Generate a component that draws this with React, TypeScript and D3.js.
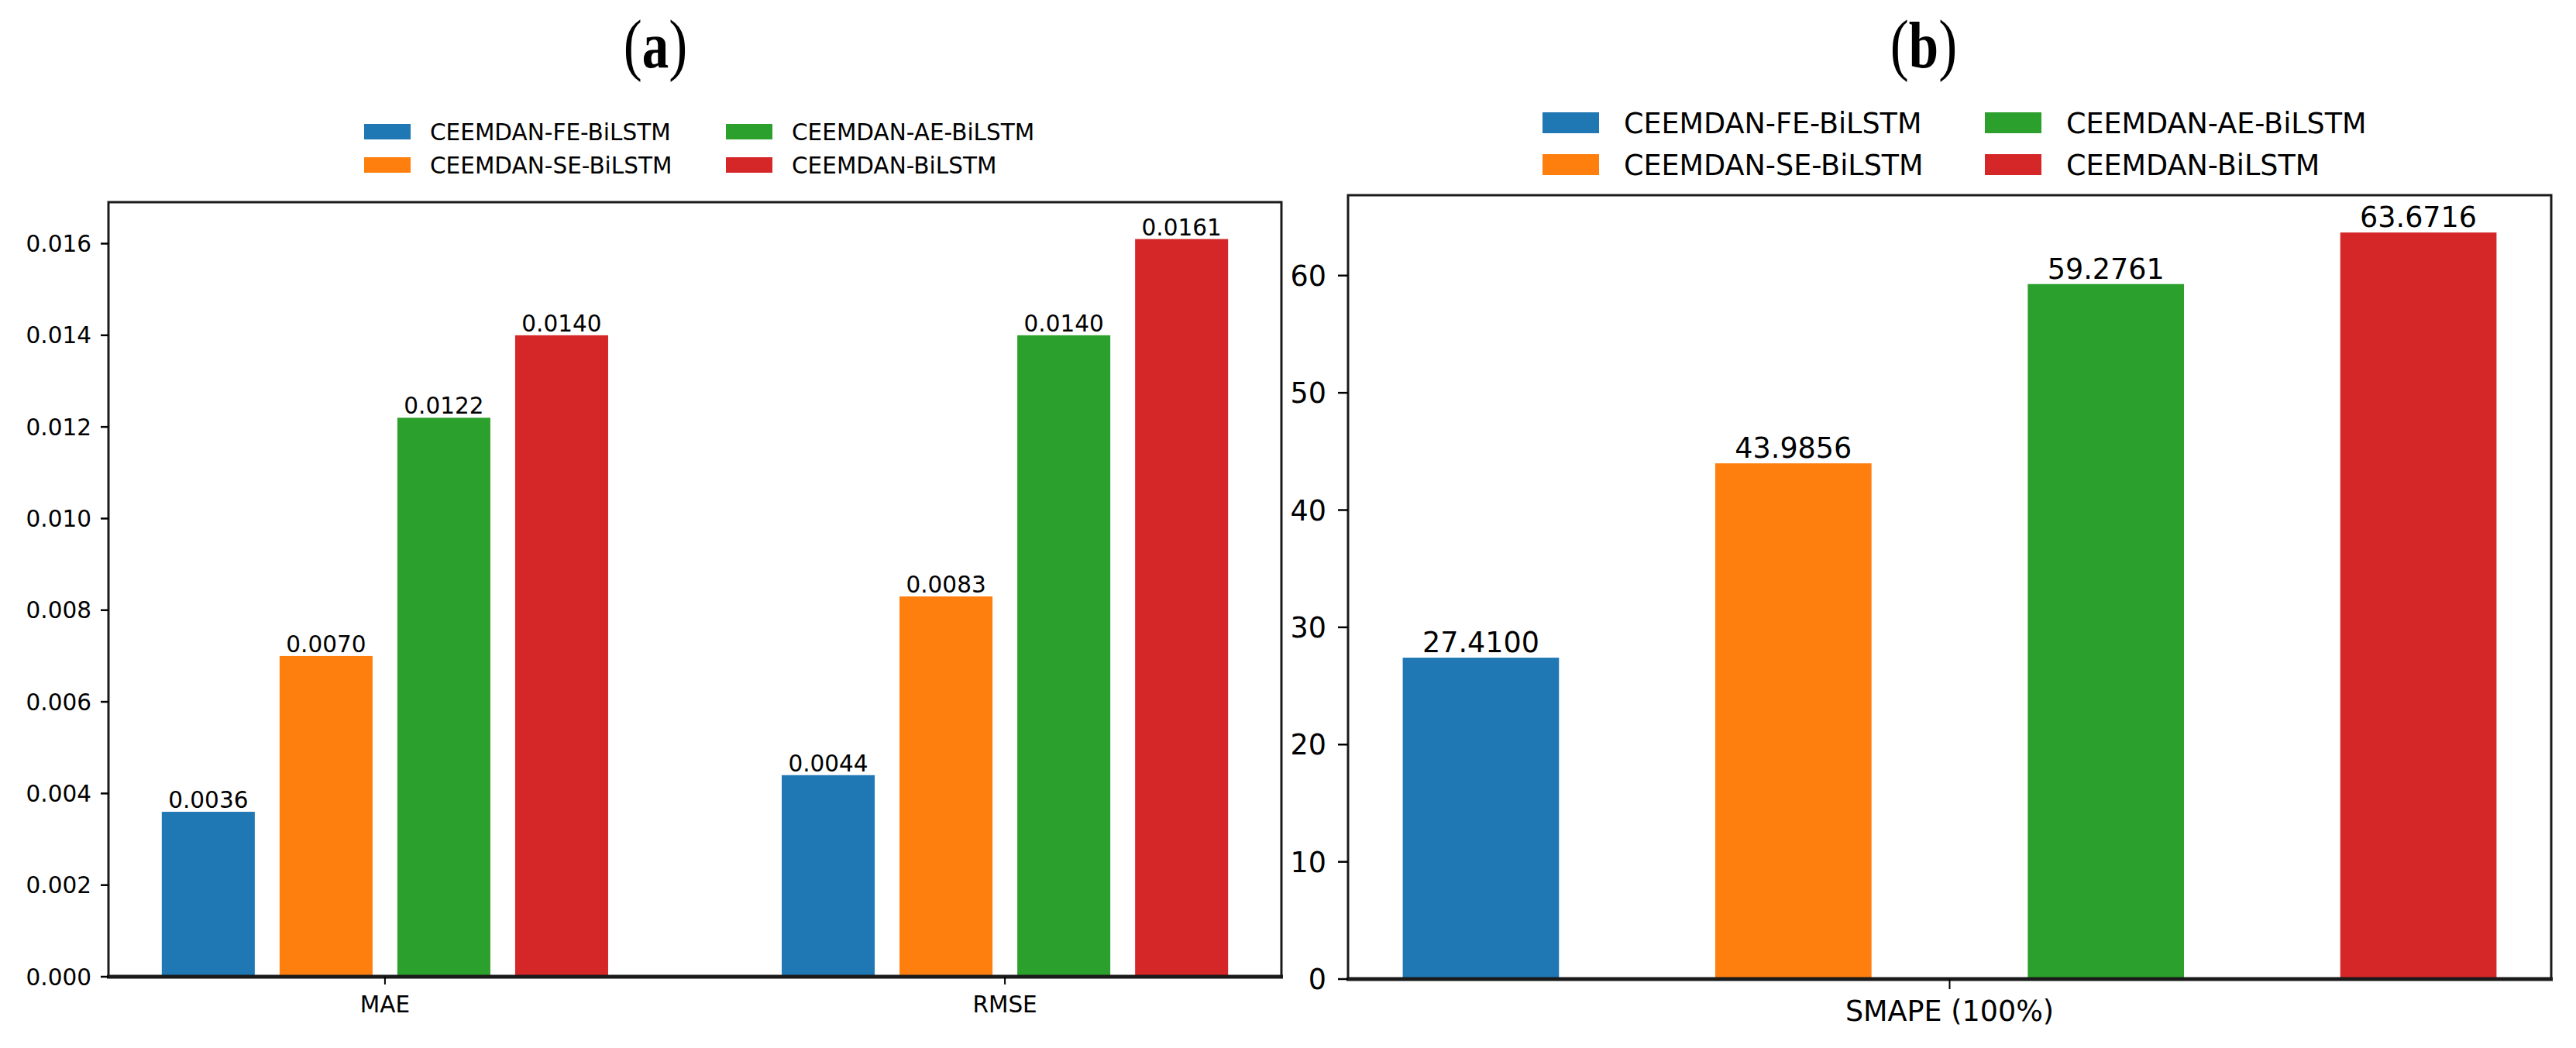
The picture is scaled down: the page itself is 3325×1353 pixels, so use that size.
import { useEffect, useRef } from "react"
import * as d3 from "d3"

const models = ["CEEMDAN-FE-BiLSTM", "CEEMDAN-SE-BiLSTM", "CEEMDAN-AE-BiLSTM", "CEEMDAN-BiLSTM"]
const colors = ["#1f77b4", "#ff7f0e", "#2ca02c", "#d62728"]

// panel (a)
const errorMetrics = ["MAE", "RMSE"]
const maeValues = [0.0036, 0.007, 0.0122, 0.014]
const rmseValues = [0.0044, 0.0083, 0.014, 0.0161]
const leftTicks = [0, 0.002, 0.004, 0.006, 0.008, 0.01, 0.012, 0.014, 0.016]

// panel (b)
const smapeMetric = ["SMAPE (100%)"]
const smapeValues = [27.41, 43.9856, 59.2761, 63.6716]
const rightTicks = [0, 10, 20, 30, 40, 50, 60]

const W = 3325
const H = 1353
const FONT = "'DejaVu Sans', sans-serif"

interface PanelCfg {
  title: string
  titleX: number
  left: number
  right: number
  top: number
  bottom: number
  categories: string[]
  series: number[][] // series[model][category]
  ticks: number[]
  tickFmt: (v: number) => string
  barWidth: number
  barStep: number
  fontSize: number
  tickLen: number
  tickPad: number
  xLabelBaseline: number
  legendX: number
  legendColGap: number
  legendRowY: number[]
  legendPatch: [number, number]
  legendTextOffset: number
  labelGap: number
}

function drawPanel(svg: d3.Selection<SVGSVGElement, unknown, null, undefined>, cfg: PanelCfg) {
  const g = svg.append("g")
  const nModels = cfg.series.length
  const nCats = cfg.categories.length

  // matplotlib-like auto limits with 5% margin
  const half = ((nModels - 1) / 2) * cfg.barStep + cfg.barWidth / 2
  const lo = -half
  const hi = nCats - 1 + half
  const pad = (hi - lo) * 0.05
  const x = d3.scaleLinear().domain([lo - pad, hi + pad]).range([cfg.left, cfg.right])

  const maxV = d3.max(cfg.series.flat()) as number
  const y = d3.scaleLinear().domain([0, maxV * 1.05]).range([cfg.bottom, cfg.top])

  // bars
  cfg.series.forEach((vals, mi) => {
    const off = (mi - (nModels - 1) / 2) * cfg.barStep
    vals.forEach((v, ci) => {
      const cx = ci + off
      g.append("rect")
        .attr("x", x(cx - cfg.barWidth / 2))
        .attr("y", y(v))
        .attr("width", x(cx + cfg.barWidth / 2) - x(cx - cfg.barWidth / 2))
        .attr("height", y(0) - y(v))
        .attr("fill", colors[mi])

      g.append("text")
        .attr("x", x(cx))
        .attr("y", y(v) - cfg.labelGap)
        .attr("text-anchor", "middle")
        .attr("font-family", FONT)
        .attr("font-size", cfg.fontSize)
        .attr("fill", "#000")
        .text(v.toFixed(4))
    })
  })

  // frame
  g.append("rect")
    .attr("x", cfg.left)
    .attr("y", cfg.top)
    .attr("width", cfg.right - cfg.left)
    .attr("height", cfg.bottom - cfg.top)
    .attr("fill", "none")
    .attr("stroke", "#1a1a1a")
    .attr("stroke-width", 3)
  g.append("line")
    .attr("x1", cfg.left - 2)
    .attr("x2", cfg.right + 2)
    .attr("y1", cfg.bottom)
    .attr("y2", cfg.bottom)
    .attr("stroke", "#1a1a1a")
    .attr("stroke-width", 5)

  // y ticks
  cfg.ticks.forEach((t) => {
    g.append("line")
      .attr("x1", cfg.left - cfg.tickLen)
      .attr("x2", cfg.left)
      .attr("y1", y(t))
      .attr("y2", y(t))
      .attr("stroke", "#000")
      .attr("stroke-width", 2.5)
    g.append("text")
      .attr("x", cfg.left - cfg.tickLen - cfg.tickPad)
      .attr("y", y(t))
      .attr("dy", "0.36em")
      .attr("text-anchor", "end")
      .attr("font-family", FONT)
      .attr("font-size", cfg.fontSize)
      .attr("fill", "#000")
      .text(cfg.tickFmt(t))
  })

  // x ticks
  cfg.categories.forEach((c, ci) => {
    g.append("line")
      .attr("x1", x(ci))
      .attr("x2", x(ci))
      .attr("y1", cfg.bottom)
      .attr("y2", cfg.bottom + cfg.tickLen)
      .attr("stroke", "#000")
      .attr("stroke-width", 2)
    g.append("text")
      .attr("x", x(ci))
      .attr("y", cfg.xLabelBaseline)
      .attr("text-anchor", "middle")
      .attr("font-family", FONT)
      .attr("font-size", cfg.fontSize)
      .attr("fill", "#000")
      .text(c)
  })

  // legend, two columns filled top-down
  const [pw, ph] = cfg.legendPatch
  models.forEach((m, i) => {
    const col = Math.floor(i / 2)
    const row = i % 2
    const lx = cfg.legendX + col * cfg.legendColGap
    const ly = cfg.legendRowY[row]
    g.append("rect").attr("x", lx).attr("y", ly).attr("width", pw).attr("height", ph).attr("fill", colors[i])
    g.append("text")
      .attr("x", lx + cfg.legendTextOffset)
      .attr("y", ly + ph / 2)
      .attr("dy", "0.36em")
      .attr("font-family", FONT)
      .attr("font-size", cfg.fontSize)
      .attr("fill", "#000")
      .text(m)
  })

  // title: thin tall parentheses round a bold letter, slightly condensed
  const t = g
    .append("text")
    .attr("transform", `translate(${cfg.titleX},87) scale(0.82,1)`)
    .attr("text-anchor", "middle")
    .attr("font-family", "'Liberation Serif', 'Times New Roman', serif")
    .attr("font-size", 88)
    .attr("fill", "#000")
  t.append("tspan").text("(")
  t.append("tspan").attr("font-weight", "bold").attr("font-size", 84).text(cfg.title)
  t.append("tspan").text(")")
}

export default function App() {
  const svgRef = useRef<SVGSVGElement>(null)

  useEffect(() => {
    if (!svgRef.current) return
    document.body.style.margin = "0"
    const svg = d3.select(svgRef.current).attr("width", W).attr("height", H)
    svg.selectAll("*").remove()
    svg.append("rect").attr("width", W).attr("height", H).attr("fill", "#fff")

    const leftSeries = models.map((_, i) => [maeValues[i], rmseValues[i]])
    drawPanel(svg, {
      title: "a",
      titleX: 846,
      left: 140,
      right: 1654,
      top: 261,
      bottom: 1261,
      categories: errorMetrics,
      series: leftSeries,
      ticks: leftTicks,
      tickFmt: (v) => v.toFixed(3),
      barWidth: 0.15,
      barStep: 0.19,
      fontSize: 29.5,
      tickLen: 10,
      tickPad: 12,
      xLabelBaseline: 1307,
      legendX: 470,
      legendColGap: 467,
      legendRowY: [160, 203],
      legendPatch: [60, 20],
      legendTextOffset: 85,
      labelGap: 5,
    })

    const rightSeries = models.map((_, i) => [smapeValues[i]])
    drawPanel(svg, {
      title: "b",
      titleX: 2483,
      left: 1740,
      right: 3293,
      top: 252,
      bottom: 1264,
      categories: smapeMetric,
      series: rightSeries,
      ticks: rightTicks,
      tickFmt: (v) => String(v),
      barWidth: 0.1,
      barStep: 0.2,
      fontSize: 36.5,
      tickLen: 13,
      tickPad: 15,
      xLabelBaseline: 1318,
      legendX: 1991,
      legendColGap: 571,
      legendRowY: [145, 199],
      legendPatch: [73, 27],
      legendTextOffset: 105,
      labelGap: 7,
    })
  }, [])

  return <svg ref={svgRef} style={{ display: "block" }} />
}
